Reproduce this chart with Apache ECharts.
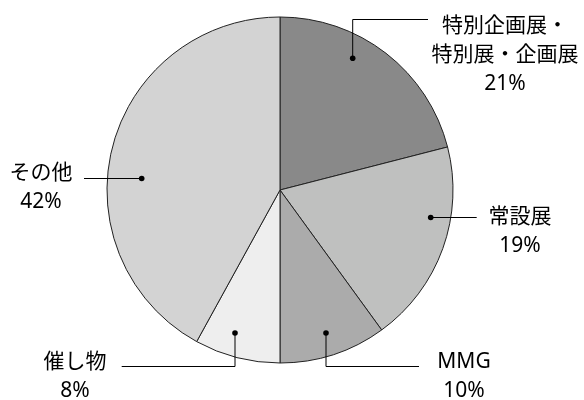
<!DOCTYPE html>
<html>
<head>
<meta charset="utf-8">
<script src="https://cdn.jsdelivr.net/npm/echarts@6/dist/echarts.min.js"></script>
<style>
html,body{margin:0;padding:0;background:#fff;}
#chart{width:584px;height:400px;}
</style>
</head>
<body>
<div id="chart"></div>
<script>
// Data
var categories = ['特別企画展・\n特別展・企画展', '常設展', 'MMG', '催し物', 'その他'];
var values = [21, 19, 10, 8, 42];
var colors = ['#898989', '#bfc0bf', '#ababab', '#eeeeee', '#d3d3d3'];

// Label layout (annotation positions in pixels)
var labelPos = [
  {x: 505, y: 55, line: [[352.7, 58.3], [352.7, 19.5], [428, 19.5]]},
  {x: 520, y: 231.5, line: [[430.7, 217.5], [476.7, 217.5]]},
  {x: 464, y: 377, line: [[326, 333], [326, 366.5], [419, 366.5]]},
  {x: 75, y: 376.5, line: [[235, 333], [235, 366.5], [121.7, 366.5]]},
  {x: 41, y: 187.5, line: [[141.7, 178.5], [84, 178.5]]}
];

var chart = echarts.init(document.getElementById('chart'), null, {renderer: 'canvas'});

var pieData = categories.map(function (c, i) {
  return {name: c, value: values[i], itemStyle: {color: colors[i]}};
});

var overlay = [];
labelPos.forEach(function (p) {
  overlay.push({
    type: 'polyline',
    shape: {points: p.line},
    style: {stroke: '#000', lineWidth: 1, fill: null},
    z: 100,
    silent: true
  });
  overlay.push({
    type: 'circle',
    shape: {cx: p.line[0][0], cy: p.line[0][1], r: 2.8},
    style: {fill: '#000'},
    z: 101,
    silent: true
  });
});

chart.setOption({
  animation: false,
  backgroundColor: '#fff',
  series: [{
    type: 'pie',
    center: [280, 190],
    radius: 173,
    startAngle: 90,
    clockwise: true,
    silent: true,
    data: pieData,
    itemStyle: {borderColor: '#222', borderWidth: 1},
    emphasis: {disabled: true},
    label: {
      show: true,
      position: 'outside',
      overflow: 'none',
      formatter: function (p) { return p.name + '\n' + p.value + '%'; },
      fontFamily: '"Noto Sans", "Noto Sans CJK JP", sans-serif',
      fontSize: 21,
      lineHeight: 29,
      color: '#000',
      align: 'center'
    },
    labelLine: {show: false},
    labelLayout: function (params) {
      var p = labelPos[params.dataIndex];
      return {
        x: p.x,
        y: p.y,
        align: 'center',
        verticalAlign: 'middle'
      };
    }
  }],
  graphic: overlay
});
</script>
</body>
</html>
